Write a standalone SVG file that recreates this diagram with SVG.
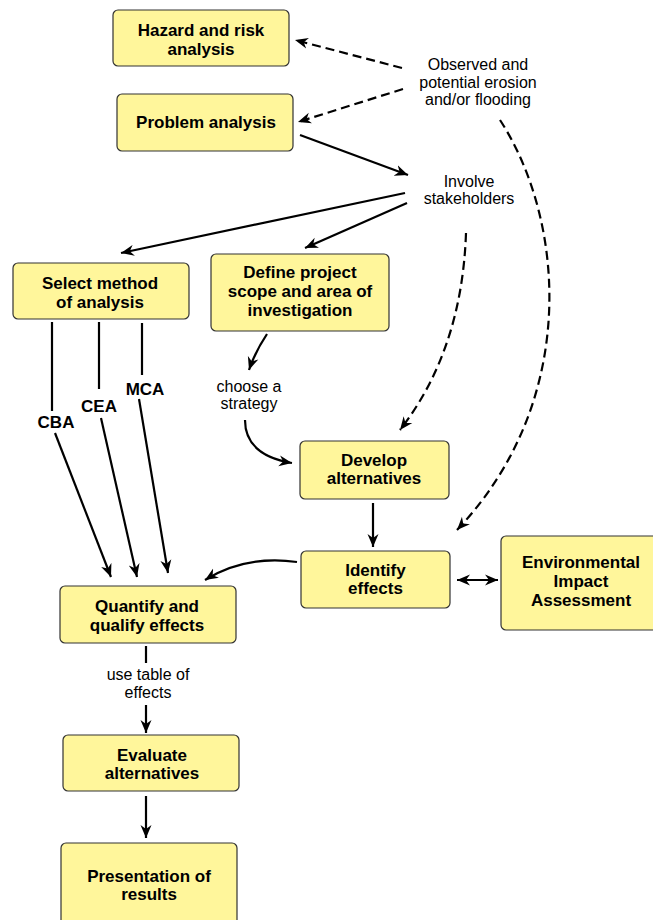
<svg xmlns="http://www.w3.org/2000/svg" width="653" height="920" viewBox="0 0 653 920">
<defs>
<marker id="ah" markerUnits="userSpaceOnUse" markerWidth="14" markerHeight="12" refX="13" refY="6" orient="auto-start-reverse">
<path d="M0,0.5 L13,6 L0,11.5 L4,6 z" fill="#000"/>
</marker>
</defs>
<style>
.box{fill:#FFF69B;stroke:#333;stroke-width:1.2}
.bt{font-family:"Liberation Sans",Arial,sans-serif;font-weight:bold;font-size:17px;fill:#000;text-anchor:middle}
.lt{font-family:"Liberation Sans",Arial,sans-serif;font-size:16px;fill:#000;text-anchor:middle}
.c{fill:none;stroke:#000;stroke-width:2.2}
.d{stroke-dasharray:9,5}
.a{marker-end:url(#ah)}
</style>
<rect width="653" height="920" fill="#fff"/>

<g id="connectors">
<path class="c d a" d="M402,68 L295,40"/>
<path class="c d a" d="M403,89 L298,122"/>
<path class="c d a" d="M500,120 C565,220 580,400 457,530"/>
<path class="c d a" d="M466,233 Q462,350 400,430"/>
<path class="c a" d="M300,135 L408,175"/>
<path class="c a" d="M405,193 L121,253"/>
<path class="c a" d="M407,203 L305,248"/>
<path class="c a" d="M267,334 Q255,352 249,370"/>
<path class="c a" d="M245,420 Q245,455 292,463"/>
<path class="c a" d="M373,503 L373,547"/>
<path class="c a" d="M297,562 Q245,555 205,580"/>
<path class="c a" d="M457,580 L498,580" marker-start="url(#ah)"/>
<path class="c" d="M52,322 L52,411"/>
<path class="c a" d="M55,433 L111,577"/>
<path class="c" d="M99,322 L99,389"/>
<path class="c a" d="M101,418 L137,577"/>
<path class="c" d="M142,323 L142,375"/>
<path class="c a" d="M139,399 L168,573"/>
<path class="c" d="M146,646 L146,663"/>
<path class="c a" d="M146,705 L146,733"/>
<path class="c a" d="M146,796 L146,838"/>
</g>

<g id="labels">
<text class="lt" x="478" y="70">Observed and</text>
<text class="lt" x="478" y="87.5">potential erosion</text>
<text class="lt" x="478" y="105">and/or flooding</text>
<text class="lt" x="469" y="187">Involve</text>
<text class="lt" x="469" y="204">stakeholders</text>
<text class="lt" x="249" y="392">choose a</text>
<text class="lt" x="249" y="409">strategy</text>
<text class="bt" x="56" y="428">CBA</text>
<text class="bt" x="99" y="412">CEA</text>
<text class="bt" x="145" y="395">MCA</text>
<text class="lt" x="148" y="680">use table of</text>
<text class="lt" x="148" y="698">effects</text>
</g>

<g id="hazard">
<rect class="box" x="113" y="10" width="176" height="56" rx="5"/>
<text class="bt" x="201" y="36">Hazard and risk</text>
<text class="bt" x="201" y="55">analysis</text>
</g>
<g id="problem">
<rect class="box" x="117" y="94" width="176" height="57" rx="5"/>
<text class="bt" x="206" y="128">Problem analysis</text>
</g>
<g id="select">
<rect class="box" x="13" y="263" width="176" height="56" rx="5"/>
<text class="bt" x="100" y="289">Select method</text>
<text class="bt" x="100" y="308">of analysis</text>
</g>
<g id="define">
<rect class="box" x="211" y="254" width="178" height="77" rx="5"/>
<text class="bt" x="300" y="278">Define project</text>
<text class="bt" x="300" y="297">scope and area of</text>
<text class="bt" x="300" y="316">investigation</text>
</g>
<g id="develop">
<rect class="box" x="300" y="441" width="149" height="58" rx="5"/>
<text class="bt" x="374" y="466">Develop</text>
<text class="bt" x="374" y="484">alternatives</text>
</g>
<g id="identify">
<rect class="box" x="301" y="551" width="149" height="57" rx="5"/>
<text class="bt" x="375.5" y="576">Identify</text>
<text class="bt" x="375.5" y="594">effects</text>
</g>
<g id="eia">
<rect class="box" x="501" y="536" width="162" height="94" rx="5"/>
<text class="bt" x="581" y="568">Environmental</text>
<text class="bt" x="581" y="587">Impact</text>
<text class="bt" x="581" y="606">Assessment</text>
</g>
<g id="quantify">
<rect class="box" x="60" y="586" width="176" height="57" rx="5"/>
<text class="bt" x="147" y="612">Quantify and</text>
<text class="bt" x="147" y="631">qualify effects</text>
</g>
<g id="evaluate">
<rect class="box" x="63" y="735" width="176" height="56" rx="5"/>
<text class="bt" x="152" y="761">Evaluate</text>
<text class="bt" x="152" y="779">alternatives</text>
</g>
<g id="presentation">
<rect class="box" x="61" y="843" width="176" height="90" rx="5"/>
<text class="bt" x="149" y="882">Presentation of</text>
<text class="bt" x="149" y="900">results</text>
</g>
</svg>
